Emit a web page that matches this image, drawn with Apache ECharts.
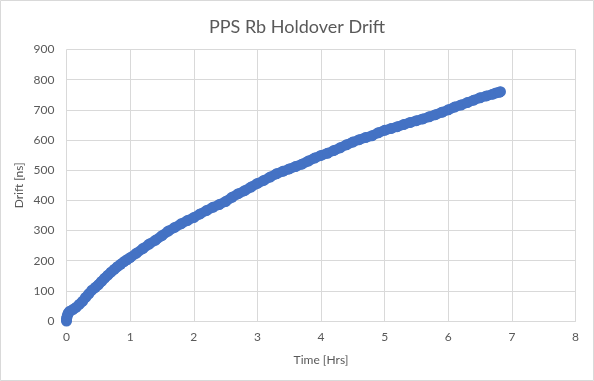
<!DOCTYPE html>
<html><head><meta charset="utf-8">
<script src="https://cdn.jsdelivr.net/npm/echarts@6/dist/echarts.min.js"></script>
<style>html,body{margin:0;padding:0;background:#fff}#c{width:594px;height:381px}</style>
</head><body><div id="c"></div>
<script>
const titleText = "PPS Rb Holdover Drift";
const xName = "Time [Hrs]";
const yName = "Drift [ns]";
const timeHrs = [0,0,0.01,0.02,0.03,0.05,0.1,0.15,0.2,0.25,0.3,0.35,0.4,0.45,0.5,0.55,0.6,0.65,0.7,0.75,0.8,0.85,0.9,0.95,1.0,1.1,1.2,1.3,1.4,1.5,1.6,1.7,1.8,1.9,2.0,2.1,2.2,2.3,2.4,2.5,2.6,2.7,2.8,2.9,3.0,3.1,3.2,3.3,3.4,3.5,3.6,3.7,3.8,3.9,4.0,4.1,4.2,4.3,4.4,4.5,4.6,4.7,4.8,4.9,5.0,5.1,5.2,5.3,5.4,5.5,5.6,5.7,5.8,5.9,6.0,6.1,6.2,6.3,6.4,6.5,6.6,6.7,6.75,6.8,6.82];
const driftNs = [0,8,15,22,27,32,38,45,55,65,78,90,102,111,120,131,142,152,162,171,180,188,196,203,210,225,240,255,268,283,298,310,322,333,343,355,366,377,386,396,410,422,432,444,456,466,477,488,496,504,512,520,530,540,549,556,565,574,584,593,601,608,614,624,632,638,644,651,658,664,670,677,684,692,700,709,716,724,732,740,746,752,756,758,760];
const xTicks = {min:0,max:8,interval:1};
const yTicks = {min:0,max:900,interval:100};

const pts = timeHrs.map((t,i)=>[t,driftNs[i]]);
const chart = echarts.init(document.getElementById('c'));
const font = 'Lato, "Liberation Sans", sans-serif';
chart.setOption({
  animation:false,
  backgroundColor:'#fff',
  title:{text:titleText,left:'center',top:13,textStyle:{fontFamily:font,fontSize:18,fontWeight:'normal',color:'#595959'}},
  grid:{left:66.5,right:18.5,top:49.5,bottom:60,containLabel:false},
  xAxis:{type:'value',min:xTicks.min,max:xTicks.max,interval:xTicks.interval,
    name:xName,nameLocation:'middle',nameGap:33,nameMoveOverlap:false,nameTextStyle:{fontFamily:font,fontSize:12,color:'#595959'},
    axisLine:{show:true,lineStyle:{color:'#d9d9d9'}},axisTick:{show:false},
    axisLabel:{fontFamily:font,fontSize:12,color:'#595959',margin:10},
    splitLine:{show:true,lineStyle:{color:'#d9d9d9'}}},
  yAxis:{type:'value',min:yTicks.min,max:yTicks.max,interval:yTicks.interval,
    name:yName,nameLocation:'middle',nameGap:41,nameMoveOverlap:false,nameTextStyle:{fontFamily:font,fontSize:12,color:'#595959'},
    axisLine:{show:false},axisTick:{show:false},
    axisLabel:{fontFamily:font,fontSize:12,color:'#595959',margin:12},
    splitLine:{show:true,lineStyle:{color:'#d9d9d9'}}},
  graphic:[{type:'rect',shape:{x:0.5,y:0.5,width:593,height:380},style:{fill:'none',stroke:'#d9d9d9',lineWidth:1},silent:true}],
  series:[{type:'line',data:pts,symbol:'circle',symbolSize:11,showSymbol:true,
    itemStyle:{color:'#4472C4'},lineStyle:{color:'#4472C4',width:10,cap:'round',join:'round'}}]
});
</script></body></html>
